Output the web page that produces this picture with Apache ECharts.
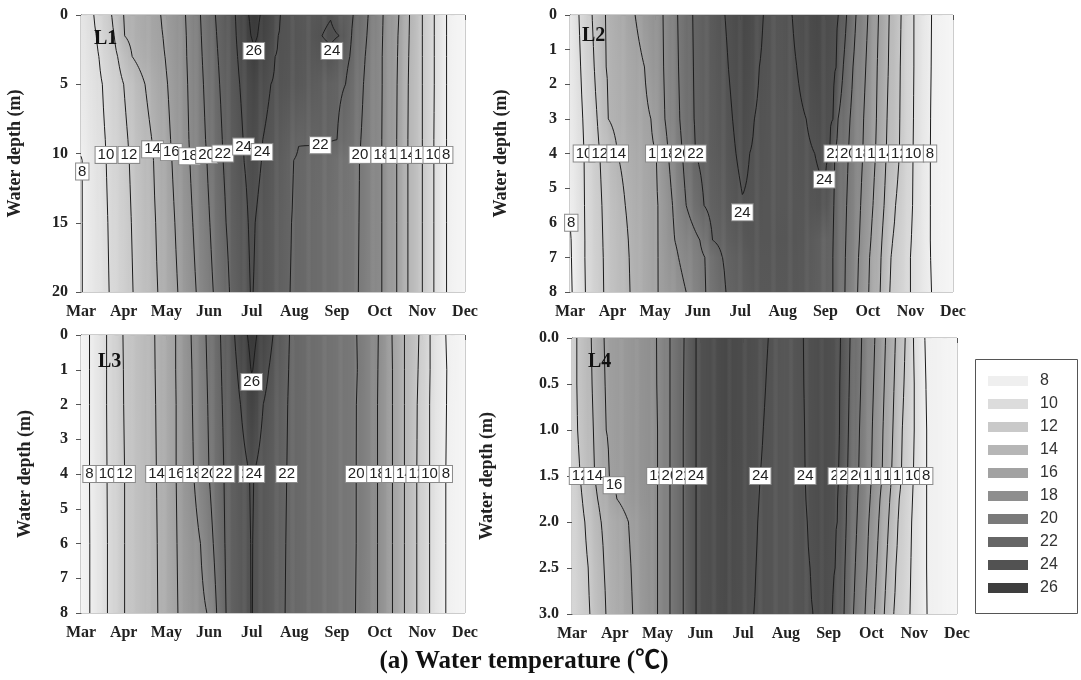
<!DOCTYPE html>
<html><head><meta charset="utf-8">
<script src="https://cdn.jsdelivr.net/npm/echarts@6.0.0/dist/echarts.min.js"></script>
<style>html,body{margin:0;padding:0;background:#fff}#c{width:1081px;height:680px}</style>
</head><body><div id="c"></div>
<script>
// ---------- tick labels / levels ----------
const months = ['Mar','Apr','May','Jun','Jul','Aug','Sep','Oct','Nov','Dec'];
const levels = [8,10,12,14,16,18,20,22,24,26];
const legendColors = ['#efefef','#dcdcdc','#c9c9c9','#b6b6b6','#a2a2a2','#8e8e8e','#7a7a7a','#666666','#525252','#3e3e3e'];

// ---------- L1 (depth 0-20 m); time in months after 1 Mar ----------
const l1Depths = [0, 1.5, 3, 5, 9, 10.5, 15, 20];
const l1Left  = [9.0, 8.9, 8.8, 8.6, 8.2, 7.95, 7.9, 7.9];
const l1Right = [7.2, 7.2, 7.2, 7.2, 7.2, 7.2, 7.2, 7.2];
const l1Iso = [
  [8,  [null,null,null,null,null,0.03,0.03,0.03]],
  [10, [0.30,0.36,0.42,0.50,0.57,0.59,0.63,0.66]],
  [12, [0.72,0.78,0.86,1.00,1.10,1.13,1.18,1.22]],
  [14, [1.00,1.02,1.20,1.50,1.66,1.70,1.75,1.80]],
  [16, [1.87,1.92,1.97,2.03,2.10,2.13,2.20,2.27]],
  [18, [2.45,2.47,2.48,2.50,2.53,2.55,2.62,2.70]],
  [20, [2.80,2.82,2.84,2.87,2.92,2.95,3.02,3.10]],
  [22, [3.15,3.18,3.21,3.25,3.31,3.33,3.40,3.48]],
  [24, [3.62,3.64,3.67,3.72,3.80,3.82,3.92,3.97]],
  [26, [3.93,3.98,null,null,null,null,null,null]],
  [26, [4.20,4.14,null,null,null,null,null,null]],
  [24, [4.67,4.62,4.55,4.45,4.26,4.23,4.08,4.03]],
  [24, [null,5.65,null,null,null,null,null,null]],
  [24, [null,6.05,null,null,null,null,null,null]],
  [22, [6.38,6.34,6.30,6.20,6.00,4.98,4.93,4.90]],
  [20, [6.73,6.70,6.66,6.62,6.56,6.53,6.52,6.50]],
  [18, [7.08,7.07,7.06,7.06,7.05,7.05,7.05,7.05]],
  [16, [7.45,7.43,7.42,7.41,7.40,7.40,7.40,7.40]],
  [14, [7.70,7.69,7.68,7.67,7.66,7.66,7.66,7.66]],
  [12, [8.00,8.00,8.00,8.00,8.00,8.00,8.00,8.00]],
  [10, [8.28,8.28,8.28,8.28,8.27,8.27,8.27,8.27]],
  [8,  [8.56,8.56,8.56,8.56,8.56,8.56,8.56,8.56]]
];
const l1Ext = [
  [[4.05,4.06,4.05,4.05,4.03,4.03,4.00,4.00],[26.5,26.2,25.85,25.2,24.6,24.5,24.3,24.15]],
  [[5.30,5.30,5.30,5.30,5.10,5.80,5.70,5.70],[23.3,23.4,23.3,23.1,22.05,21.3,21.2,21.2]],
  [[5.85,5.85,5.85,null,5.60,null,null,null],[23.9,24.3,23.6,null,22.2,null,null,null]]
];
const l1Labels = [[8,11.3,0.03],[10,10.1,0.59],[12,10.1,1.13],[14,9.7,1.7],[16,9.9,2.13],[18,10.2,2.55],
  [20,10.1,2.95],[22,10.0,3.33],[24,9.5,3.82],[24,9.9,4.23],[22,9.4,5.37],[20,10.1,6.53],[18,10.1,7.05],
  [16,10.1,7.4],[14,10.1,7.66],[12,10.1,8.0],[10,10.1,8.27],[8,10.1,8.56],[26,2.6,4.05],[24,2.6,5.88]];

// ---------- L2 (depth 0-8 m) ----------
const l2Depths = [0, 1.5, 3, 4, 5.5, 6.5, 7, 8];
const l2Left  = [8.6, 8.5, 8.4, 8.3, 8.05, 7.95, 7.9, 7.8];
const l2Right = [7.3, 7.3, 7.3, 7.3, 7.3, 7.3, 7.3, 7.3];
const l2Iso = [
  [8,  [null,null,null,null,null,0.03,0.04,0.05]],
  [10, [0.21,0.25,0.30,0.33,0.34,0.35,0.35,0.36]],
  [12, [0.52,0.57,0.64,0.70,0.75,0.77,0.78,0.79]],
  [14, [0.83,0.85,0.90,1.12,1.30,1.37,1.39,1.41]],
  [16, [1.53,1.75,1.90,2.03,2.07,2.07,2.07,2.07]],
  [18, [2.19,2.20,2.23,2.31,2.41,2.46,2.55,2.73]],
  [20, [2.53,2.55,2.58,2.64,2.73,3.05,3.17,3.19]],
  [22, [2.88,2.90,2.91,2.95,3.15,3.35,3.58,3.66]],
  [24, [3.64,3.72,3.82,3.90,null,null,null,null]],
  [24, [4.54,4.45,4.33,4.22,null,null,null,null]],
  [24, [5.22,5.33,5.55,5.75,null,null,null,null]],
  [24, [6.31,6.26,6.19,6.10,null,null,null,null]],
  [22, [6.50,6.42,6.30,6.22,6.20,6.19,6.18,6.18]],
  [20, [6.72,6.65,6.58,6.54,6.50,6.48,6.47,6.46]],
  [18, [7.00,6.95,6.90,6.88,6.83,6.80,6.78,6.76]],
  [16, [7.25,7.22,7.20,7.18,7.12,7.07,7.04,7.02]],
  [14, [7.50,7.48,7.45,7.43,7.38,7.33,7.31,7.29]],
  [12, [7.78,7.76,7.75,7.74,7.65,7.58,7.54,7.51]],
  [10, [8.08,8.08,8.07,8.06,8.05,8.02,8.00,8.00]],
  [8,  [8.49,8.48,8.47,8.46,8.46,8.46,8.47,8.49]]
];
const l2Ext = [
  [[4.10,4.10,4.08,4.06,4.05,4.20,4.30,4.40],[25.0,24.8,24.6,24.4,23.9,23.6,23.5,23.4]],
  [[4.90,4.90,4.90,4.90,4.90,5.50,5.50,5.50],[23.6,23.5,23.4,23.4,23.4,23.5,23.4,23.3]],
  [[5.80,5.80,5.90,5.95,6.00,null,null,null],[25.0,24.8,24.5,24.25,23.8,null,null,null]]
];
const l2Labels = [[8,6.0,0.03],[10,4,0.3],[12,4,0.68],[14,4,1.15],[16,4,1.95],[18,4,2.35],[20,4,2.66],
  [22,4,2.97],[24,5.7,4.05],[24,4.75,5.98],[22,4,6.22],[20,4,6.54],[18,4,6.88],[16,4,7.18],[14,4,7.43],
  [12,4,7.74],[10,4,8.06],[8,4,8.46]];

// ---------- L3 (depth 0-8 m) ----------
const l3Depths = [0, 1, 2, 4, 6, 8];
const l3Left  = [7.5, 7.5, 7.5, 7.5, 7.5, 7.5];
const l3Right = [7.3, 7.3, 7.3, 7.3, 7.3, 7.3];
const l3Iso = [
  [8,  [0.20,0.20,0.20,0.20,0.21,0.21]],
  [10, [0.60,0.60,0.60,0.61,0.62,0.62]],
  [12, [0.98,0.99,1.00,1.02,1.02,1.02]],
  [14, [1.73,1.74,1.75,1.77,1.79,1.80]],
  [16, [2.22,2.22,2.23,2.23,2.25,2.27]],
  [18, [2.58,2.60,2.61,2.64,2.80,2.95]],
  [20, [2.93,2.95,2.97,3.00,3.10,3.18]],
  [22, [3.27,3.29,3.31,3.35,3.37,3.40]],
  [24, [3.60,3.66,3.74,3.95,3.98,3.99]],
  [26, [3.90,3.98,null,null,null,null]],
  [26, [4.12,4.03,null,null,null,null]],
  [24, [4.50,4.40,4.27,4.05,4.02,4.01]],
  [22, [4.88,4.86,4.84,4.82,4.80,4.78]],
  [20, [6.47,6.48,6.46,6.45,6.45,6.44]],
  [18, [6.97,6.96,6.95,6.95,6.95,6.95]],
  [16, [7.29,7.30,7.30,7.30,7.30,7.30]],
  [14, [7.58,7.58,7.58,7.58,7.58,7.58]],
  [12, [7.92,7.90,7.88,7.87,7.87,7.87]],
  [10, [8.18,8.18,8.17,8.17,8.17,8.17]],
  [8,  [8.55,8.57,8.56,8.55,8.55,8.55]]
];
const l3Ext = [
  [[4.01,4.00,4.00,4.00,4.00,4.00],[26.5,26.05,25.5,24.5,24.3,24.1]],
  [[5.60,5.60,5.60,5.60,5.60,5.60],[21.0,21.0,21.0,21.0,21.0,21.0]]
];
const l3Labels = [[8,4,0.2],[10,4,0.61],[12,4,1.02],[14,4,1.77],[16,4,2.23],[18,4,2.64],[20,4,3.0],
  [22,4,3.35],[24,4,3.92],[24,4,4.08],[22,4,4.82],[20,4,6.45],[18,4,6.95],[16,4,7.3],[14,4,7.58],
  [12,4,7.87],[10,4,8.17],[8,4,8.55],[26,1.35,4.0]];

// ---------- L4 (depth 0-3 m) ----------
const l4Depths = [0, 0.5, 1, 1.5, 1.75, 2, 2.5, 3];
const l4Left  = [11.0, 11.0, 11.0, 10.9, 10.8, 10.7, 10.6, 10.5];
const l4Right = [7.3, 7.3, 7.3, 7.3, 7.3, 7.3, 7.3, 7.3];
const l4Iso = [
  [12, [0.11,0.11,0.13,0.19,0.24,0.30,0.38,0.42]],
  [14, [0.45,0.47,0.50,0.53,0.60,0.68,0.75,0.79]],
  [16, [0.75,0.77,0.80,0.87,1.05,1.32,1.38,1.42]],
  [18, [1.98,1.99,2.00,2.00,2.00,2.00,2.00,2.00]],
  [20, [2.29,2.29,2.29,2.29,2.29,2.29,2.29,2.29]],
  [22, [2.62,2.61,2.60,2.60,2.60,2.60,2.60,2.60]],
  [24, [2.90,2.90,2.90,2.90,2.90,2.90,2.90,2.90]],
  [24, [4.59,4.53,4.47,4.40,4.37,4.34,4.30,4.25]],
  [24, [5.41,5.42,5.44,5.45,5.47,5.50,5.57,5.64]],
  [24, [6.28,6.27,6.26,6.24,6.22,6.20,6.15,6.09]],
  [22, [6.50,6.48,6.46,6.44,6.42,6.41,6.38,6.36]],
  [20, [6.77,6.75,6.72,6.70,6.68,6.66,6.62,6.58]],
  [18, [7.08,7.05,7.02,7.00,6.97,6.94,6.90,6.85]],
  [16, [7.33,7.30,7.27,7.25,7.20,7.17,7.12,7.07]],
  [14, [7.56,7.53,7.50,7.47,7.43,7.40,7.35,7.30]],
  [12, [7.79,7.76,7.72,7.70,7.65,7.62,7.57,7.52]],
  [10, [7.98,8.00,8.00,7.98,7.96,7.94,7.92,7.90]],
  [8,  [8.24,8.27,8.28,8.28,8.28,8.28,8.28,8.30]]
];
const l4Ext = [
  [[3.60,3.60,3.60,3.60,3.60,3.60,3.60,3.60],[25.0,25.0,25.0,24.9,24.9,24.8,24.8,24.7]],
  [[4.95,4.95,4.95,4.95,4.95,4.95,4.95,4.95],[23.5,23.5,23.5,23.5,23.5,23.5,23.5,23.5]],
  [[5.85,5.85,5.85,5.85,5.85,5.85,5.85,5.85],[24.6,24.6,24.6,24.6,24.6,24.6,24.6,24.6]]
];
const l4Labels = [[12,1.5,0.19],[14,1.5,0.53],[16,1.6,0.9],[18,1.5,2.0],[20,1.5,2.29],[22,1.5,2.6],
  [24,1.5,2.9],[24,1.5,4.4],[24,1.5,5.45],[24,1.5,6.24],[22,1.5,6.44],[20,1.5,6.7],[18,1.5,7.0],
  [16,1.5,7.25],[14,1.5,7.47],[12,1.5,7.7],[10,1.5,7.98],[8,1.5,8.28]];

// ---------- helpers ----------
const panels = [
  {depths:l1Depths,left:l1Left,right:l1Right,iso:l1Iso,ext:l1Ext,labels:l1Labels},
  {depths:l2Depths,left:l2Left,right:l2Right,iso:l2Iso,ext:l2Ext,labels:l2Labels},
  {depths:l3Depths,left:l3Left,right:l3Right,iso:l3Iso,ext:l3Ext,labels:l3Labels},
  {depths:l4Depths,left:l4Left,right:l4Right,iso:l4Iso,ext:l4Ext,labels:l4Labels}
];
const NT = 361, DT = 9 / (NT - 1);
function gray(T) {
  let g = Math.round(239 - (T - 8) * 9.83);
  g = Math.max(40, Math.min(248, g));
  return 'rgb(' + g + ',' + g + ',' + g + ')';
}
function buildRows(P) {
  return P.depths.map((d, i) => {
    const pts = [[0, P.left[i]]];
    P.iso.forEach(([lv, ts]) => { if (ts[i] != null) pts.push([ts[i], lv]); });
    P.ext.forEach(([ts, vs]) => { if (ts[i] != null) pts.push([ts[i], vs[i]]); });
    pts.push([9, P.right[i]]);
    pts.sort((a, b) => a[0] - b[0]);
    return pts;
  });
}
function rowValue(pts, t) {
  for (let k = 1; k < pts.length; k++) {
    if (t <= pts[k][0]) {
      const a = pts[k - 1], b = pts[k];
      const f = b[0] === a[0] ? 0 : (t - a[0]) / (b[0] - a[0]);
      return a[1] + f * (b[1] - a[1]);
    }
  }
  return pts[pts.length - 1][1];
}
function makeRender(P) {
  const rows = buildRows(P);
  const nr = rows.length;
  const G = rows.map(r => { const a = []; for (let j = 0; j < NT; j++) a.push(rowValue(r, j * DT)); return a; });
  function field(t, d) {
    let i = 0;
    while (i < nr - 2 && d > P.depths[i + 1]) i++;
    const f = (d - P.depths[i]) / (P.depths[i + 1] - P.depths[i]);
    return rowValue(rows[i], t) * (1 - f) + rowValue(rows[i + 1], t) * f;
  }
  return function (params, api) {
    const ch = [];
    const dmax = P.depths[nr - 1];
    const X = t => api.coord([t, 0])[0];
    const Y = d => api.coord([0, d])[1];
    const yTop = Y(0), yBot = Y(dmax), xEnd = X(9);
    for (let j = 0; j < NT - 1; j++) {
      const xa = X(j * DT), xb = X((j + 1) * DT);
      const stops = P.depths.map((d, i) => ({offset: d / dmax, color: gray((G[i][j] + G[i][j + 1]) / 2)}));
      ch.push({type: 'rect', silent: true,
        shape: {x: xa, y: yTop, width: Math.min(xb - xa + 0.6, xEnd - xa), height: yBot - yTop},
        style: {fill: new echarts.graphic.LinearGradient(0, 0, 0, 1, stops)}});
    }
    levels.forEach(L => {
      let s = '';
      for (let i = 0; i < nr - 1; i++) {
        for (let j = 0; j < NT - 1; j++) {
          const v = [G[i][j], G[i][j + 1], G[i + 1][j + 1], G[i + 1][j]];
          const c = [[j * DT, P.depths[i]], [(j + 1) * DT, P.depths[i]], [(j + 1) * DT, P.depths[i + 1]], [j * DT, P.depths[i + 1]]];
          const pts = [];
          for (let e = 0; e < 4; e++) {
            const a = v[e], b = v[(e + 1) % 4];
            if ((a >= L) !== (b >= L)) {
              const f = (L - a) / (b - a), p = c[e], q = c[(e + 1) % 4];
              pts.push([X(p[0] + f * (q[0] - p[0])), Y(p[1] + f * (q[1] - p[1]))]);
            }
          }
          if (pts.length >= 2) s += 'M' + pts[0][0].toFixed(2) + ' ' + pts[0][1].toFixed(2) + 'L' + pts[1][0].toFixed(2) + ' ' + pts[1][1].toFixed(2);
          if (pts.length === 4) s += 'M' + pts[2][0].toFixed(2) + ' ' + pts[2][1].toFixed(2) + 'L' + pts[3][0].toFixed(2) + ' ' + pts[3][1].toFixed(2);
        }
      }
      if (s) ch.push({type: 'path', silent: true, shape: {pathData: s}, style: {fill: 'none', stroke: '#1c1c1c', lineWidth: 1}});
    });
    P.labels.forEach(([L, d, th]) => {
      let best = th, bd = 1e9;
      const st = 0.005;
      for (let t = Math.max(0, th - 0.3); t < Math.min(9, th + 0.3); t += st) {
        const a = field(t, d) - L, b = field(t + st, d) - L;
        if ((a >= 0) !== (b >= 0)) {
          const tc = t + st * a / (a - b);
          if (Math.abs(tc - th) < bd) { bd = Math.abs(tc - th); best = tc; }
        }
      }
      ch.push({type: 'text', silent: true, x: X(best), y: Y(d),
        style: {text: String(L), fill: '#222', font: '15px "Liberation Sans", Arial, sans-serif',
          align: 'center', verticalAlign: 'middle', textAlign: 'center', textVerticalAlign: 'middle',
          backgroundColor: '#fff', borderColor: '#8a8a8a', borderWidth: 1, padding: [1, 2, 0, 2]}});
    });
    return {type: 'group', children: ch};
  };
}

// ---------- layout ----------
const gridBoxes = [
  {left: 81, top: 15, width: 384, height: 277},
  {left: 570, top: 15, width: 383, height: 277},
  {left: 81, top: 335, width: 384, height: 278},
  {left: 572, top: 338, width: 385, height: 276}
];
const yMax = [20, 8, 8, 3];
const yInt = [5, 1, 1, 0.5];
const nameGaps = [57, 60, 47, 76];
const serif = '"Liberation Serif", "Times New Roman", serif';

const option = {
  animation: false,
  backgroundColor: '#fff',
  grid: gridBoxes.map(g => Object.assign({show: true, borderColor: '#9a9a9a', borderWidth: 1, backgroundColor: 'transparent'}, g)),
  xAxis: gridBoxes.map((g, k) => ({
    gridIndex: k, type: 'value', min: 0, max: 9, interval: 1,
    axisLine: {show: true, lineStyle: {color: '#555', width: 1}},
    axisTick: {show: true, length: 5, lineStyle: {color: '#555'}},
    splitLine: {show: false},
    axisLabel: {formatter: v => months[Math.round(v)], fontFamily: serif, fontWeight: 'bold', fontSize: 16, color: '#222', margin: 12}
  })),
  yAxis: gridBoxes.map((g, k) => ({
    gridIndex: k, type: 'value', inverse: true, min: 0, max: yMax[k], interval: yInt[k],
    axisLine: {show: true, lineStyle: {color: '#555', width: 1}},
    axisTick: {show: true, length: 5, lineStyle: {color: '#555'}},
    splitLine: {show: false},
    axisLabel: {formatter: v => k === 3 ? v.toFixed(1) : String(v), fontFamily: serif, fontWeight: 'bold', fontSize: 16, color: '#222', margin: 13},
    name: 'Water depth (m)', nameLocation: 'middle', nameGap: nameGaps[k], nameRotate: 90,
    nameTextStyle: {fontFamily: serif, fontWeight: 'bold', fontSize: 18, color: '#222'}
  })),
  visualMap: {
    type: 'piecewise', seriesIndex: 4, orient: 'vertical', inverse: true, align: 'left',
    pieces: levels.map((v, k) => ({value: v, label: String(v), color: legendColors[k]})),
    left: 988, top: 373, itemWidth: 40, itemHeight: 10, itemGap: 7, itemSymbol: 'rect',
    textGap: 12, selectedMode: false, hoverLink: false, padding: 0,
    textStyle: {fontSize: 16, color: '#333', fontFamily: '"Liberation Sans", Arial, sans-serif'}
  },
  graphic: [
    {type: 'rect', z: 100, shape: {x: 975.5, y: 359.5, width: 102, height: 254}, style: {fill: 'none', stroke: '#555', lineWidth: 1}},
    {type: 'text', z: 100, x: 94, y: 39, style: {text: 'L1', font: 'bold 20px ' + serif, fill: '#111', verticalAlign: 'middle'}},
    {type: 'text', z: 100, x: 582, y: 36, style: {text: 'L2', font: 'bold 20px ' + serif, fill: '#111', verticalAlign: 'middle'}},
    {type: 'text', z: 100, x: 98, y: 362, style: {text: 'L3', font: 'bold 20px ' + serif, fill: '#111', verticalAlign: 'middle'}},
    {type: 'text', z: 100, x: 588, y: 362, style: {text: 'L4', font: 'bold 20px ' + serif, fill: '#111', verticalAlign: 'middle'}},
    {type: 'text', z: 100, x: 524, y: 662, style: {text: '(a) Water temperature (℃)', font: 'bold 25px ' + serif + ', "Noto Sans CJK SC"', fill: '#111', align: 'center', verticalAlign: 'middle'}}
  ],
  series: panels.map((P, k) => ({
    type: 'custom', xAxisIndex: k, yAxisIndex: k, silent: true, data: [[0, 0]],
    renderItem: makeRender(P)
  })).concat([{type: 'scatter', xAxisIndex: 0, yAxisIndex: 0, data: []}])
};
const chart = echarts.init(document.getElementById('c'), null, {renderer: 'canvas'});
chart.setOption(option);
</script>
</body></html>
